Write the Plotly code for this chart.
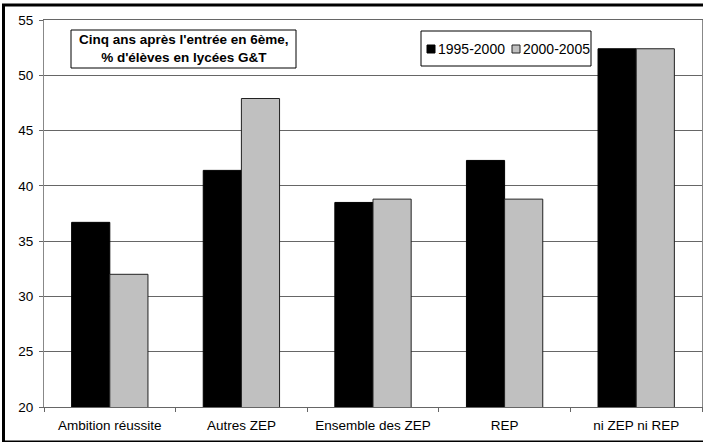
import plotly.graph_objects as go

categories = ["Ambition réussite", "Autres ZEP", "Ensemble des ZEP", "REP", "ni ZEP ni REP"]
series_1995_2000 = [36.7, 41.4, 38.5, 42.3, 52.4]
series_2000_2005 = [32.0, 47.9, 38.8, 38.8, 52.4]
series_names = ["1995-2000", "2000-2005"]
y_ticks = [20, 25, 30, 35, 40, 45, 50, 55]

W, H = 703, 442
L, R, T, B = 44, 1, 20, 35
pw, ph = W - L - R, H - T - B

def px(x):
    return (x - L) / pw

def py(y):
    return (H - B - y) / ph

font = "Liberation Sans, Arial, sans-serif"
colors = ["#000000", "#C0C0C0"]
edges = ["#000000", "#222222"]

fig = go.Figure()
for name, vals, c, e in zip(series_names, [series_1995_2000, series_2000_2005], colors, edges):
    fig.add_trace(go.Bar(x=categories, y=vals, name=name,
                         marker=dict(color=c, line=dict(color=e, width=1))))

fig.update_layout(
    width=W, height=H,
    margin=dict(l=L, r=R, t=T, b=B, pad=0),
    paper_bgcolor="white", plot_bgcolor="white",
    barmode="group", bargap=0.42, bargroupgap=0,
    font=dict(family=font, size=13.5, color="black"),
    showlegend=False,
    xaxis=dict(showgrid=False, showline=True, linecolor="#666666", linewidth=1,
               mirror=True, ticks="outside", ticklen=4, tickcolor="#666666",
               tickson="boundaries", tickfont=dict(size=13.5), ticklabelstandoff=6),
    yaxis=dict(range=[20, 55], tickvals=y_ticks, showgrid=True, gridcolor="#666666",
               gridwidth=1, showline=True, linecolor="#888888", linewidth=1, mirror=True,
               ticks="outside", ticklen=4, tickcolor="#666666", zeroline=False,
               tickfont=dict(size=13.5), ticklabelstandoff=3),
)

# title box
fig.add_shape(type="rect", xref="paper", yref="paper",
              x0=px(71), x1=px(296), y0=py(68), y1=py(30),
              line=dict(color="black", width=1), fillcolor="white", layer="above")
fig.add_annotation(
    x=px(183.5), y=py(49), xref="paper", yref="paper", xanchor="center", yanchor="middle",
    text="<b>Cinq ans après l'entrée en 6ème,<br>% d'élèves en lycées G&T</b>",
    showarrow=False, align="center", font=dict(size=13.5, family=font, color="black"),
)

# legend box (custom, to match compact legend)
fig.add_shape(type="rect", xref="paper", yref="paper",
              x0=px(421), x1=px(591), y0=py(66), y1=py(31),
              line=dict(color="black", width=1), fillcolor="white", layer="above")
leg_sq_x = [427, 512]
leg_tx_x = [436, 521]
for name, c, e, sx, tx in zip(series_names, colors, edges, leg_sq_x, leg_tx_x):
    fig.add_shape(type="rect", xref="paper", yref="paper",
                  x0=px(sx), x1=px(sx + 8), y0=py(53), y1=py(45),
                  line=dict(color=e, width=1), fillcolor=c, layer="above")
    fig.add_annotation(x=px(tx), y=py(49), xref="paper", yref="paper",
                       xanchor="left", yanchor="middle", text=name, showarrow=False,
                       font=dict(size=14, family=font, color="black"))

# outer frame
fig.add_shape(type="rect", xref="paper", yref="paper",
              x0=px(3.5), x1=px(706), y0=py(442), y1=py(5),
              line=dict(color="black", width=3), fillcolor="rgba(0,0,0,0)", layer="above")

fig.write_html("out.html", config={"displayModeBar": False},
               post_script="document.body.style.margin='0';document.body.style.padding='0';")
